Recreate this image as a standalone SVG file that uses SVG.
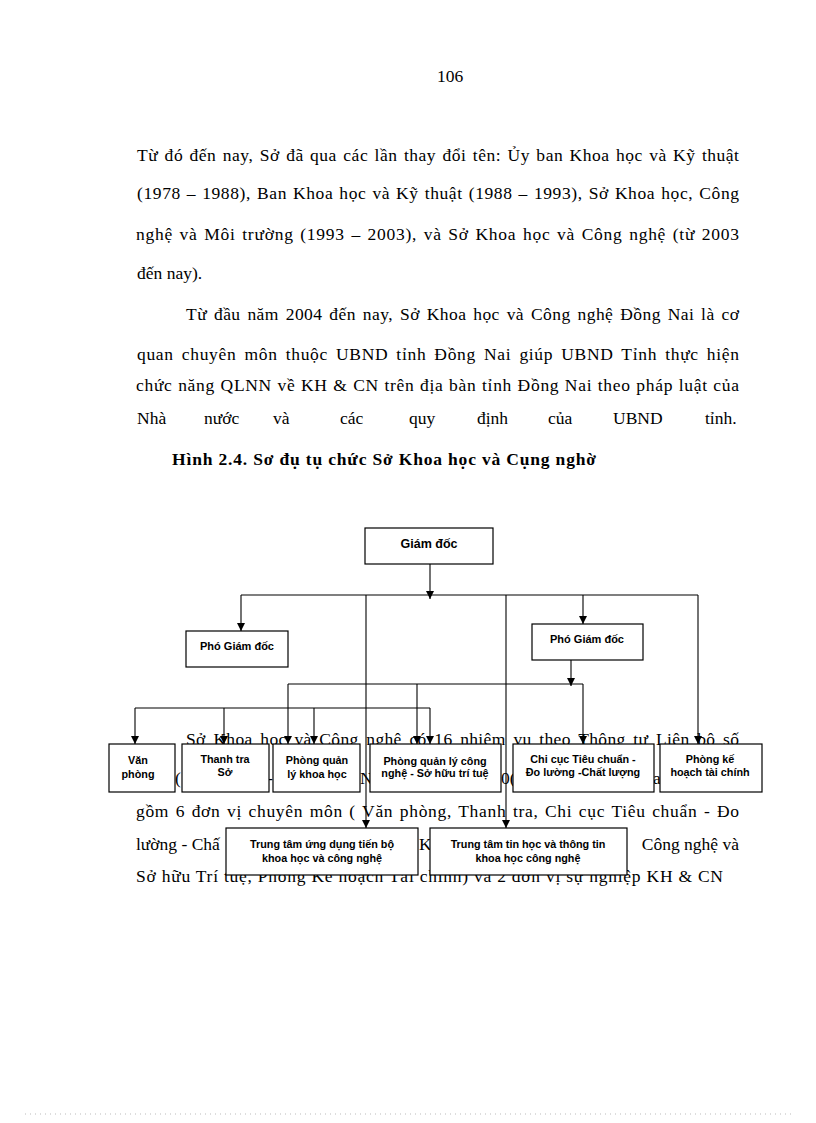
<svg xmlns="http://www.w3.org/2000/svg" width="816" height="1123" viewBox="0 0 816 1123">
<style>
.body{font-family:"Liberation Serif","Times New Roman",serif;font-size:17.5px;fill:#000}
.title{font-family:"Liberation Serif","Times New Roman",serif;font-size:17.5px;font-weight:bold;fill:#000}
.box{fill:#fff;stroke:#000;stroke-width:1.2}
.lbl{font-family:"Liberation Sans",Arial,sans-serif;font-size:10.8px;font-weight:bold;fill:#000;text-anchor:middle}
.con{stroke:#000;stroke-width:1.1;fill:none}
.arr{stroke:#000;stroke-width:1.1;fill:none;marker-end:url(#ah)}
</style>
<defs>
<marker id="ah" markerUnits="userSpaceOnUse" markerWidth="8" markerHeight="8" refX="8" refY="4" orient="auto">
<path d="M0,0 L8,4 L0,8 z" fill="#000"/>
</marker>
</defs>
<rect width="816" height="1123" fill="#fff"/>

<g id="page-text">
<text class="body" x="450" y="82" text-anchor="middle">106</text>
<text class="body" x="137" y="161" textLength="602" lengthAdjust="spacing" word-spacing="1.5">Từ đó đến nay, Sở đã qua các lần thay đổi tên: Ủy ban Khoa học và Kỹ thuật</text>
<text class="body" x="137" y="199" textLength="602" lengthAdjust="spacing" word-spacing="1">(1978 – 1988), Ban Khoa học và Kỹ thuật (1988 – 1993), Sở Khoa học, Công</text>
<text class="body" x="136" y="240" textLength="603" lengthAdjust="spacing" word-spacing="1.5">nghệ và Môi trường (1993 – 2003), và Sở Khoa học và Công nghệ (từ 2003</text>
<text class="body" x="137" y="279">đến nay).</text>
<text class="body" x="186" y="320" textLength="553" lengthAdjust="spacing" word-spacing="2">Từ đầu năm 2004 đến nay, Sở Khoa học và Công nghệ Đồng Nai là cơ</text>
<text class="body" x="137" y="360" textLength="602" lengthAdjust="spacing" word-spacing="3">quan chuyên môn thuộc UBND tỉnh Đồng Nai giúp UBND Tỉnh thực hiện</text>
<text class="body" x="136" y="391" textLength="603" lengthAdjust="spacing" word-spacing="0.5">chức năng QLNN về KH &amp; CN trên địa bàn tỉnh Đồng Nai theo pháp luật của</text>
<text class="body" y="424"><tspan x="137">Nhà</tspan><tspan x="204">nước</tspan><tspan x="273">và</tspan><tspan x="340">các</tspan><tspan x="409">quy</tspan><tspan x="477">định</tspan><tspan x="548">của</tspan><tspan x="613">UBND</tspan><tspan x="705">tỉnh.</tspan></text>
<text class="title" x="172" y="465" textLength="424" lengthAdjust="spacing">Hình 2.4. Sơ đụ tụ chức Sở Khoa học và Cụng nghờ</text>
<text class="body" x="186" y="745" textLength="553" lengthAdjust="spacing" word-spacing="3">Sở Khoa học và Công nghệ có 16 nhiệm vụ theo Thông tư Liên bộ số</text>
<text class="body" y="784"><tspan x="175">(</tspan><tspan x="267">-</tspan><tspan x="360">N</tspan><tspan x="501">0(</tspan><tspan x="653">a</tspan></text>
<text class="body" x="136" y="817" textLength="603" lengthAdjust="spacing" word-spacing="1.5">gồm 6 đơn vị chuyên môn ( Văn phòng, Thanh tra, Chi cục Tiêu chuẩn - Đo</text>
<text class="body" y="850"><tspan x="136">lường  -  Chấ</tspan><tspan x="419">K</tspan></text>
<text class="body" x="739" y="850" text-anchor="end">Công nghệ và</text>
<text class="body" x="136" y="882" textLength="587" lengthAdjust="spacing">Sở hữu Trí tuệ, Phòng Kế hoạch Tài chính) và 2 đơn vị sự nghiệp KH &amp; CN</text>
<line x1="25" y1="1114" x2="791" y2="1114" stroke="#bbb" stroke-width="1" stroke-dasharray="1 4"/>
</g>

<g id="connectors">
<line class="arr" x1="430" y1="564" x2="430" y2="599"/>
<line class="con" x1="241" y1="595" x2="698" y2="595"/>
<line class="arr" x1="241" y1="595" x2="241" y2="631"/>
<line class="arr" x1="583" y1="595" x2="583" y2="624"/>
<line class="arr" x1="366" y1="595" x2="366" y2="828"/>
<line class="arr" x1="506" y1="595" x2="506" y2="828"/>
<line class="arr" x1="698" y1="595" x2="698" y2="744"/>
<line class="arr" x1="571" y1="660" x2="571" y2="686"/>
<line class="con" x1="288" y1="684" x2="583" y2="684"/>
<line class="arr" x1="583" y1="684" x2="583" y2="744"/>
<line class="arr" x1="288" y1="684" x2="288" y2="744"/>
<line class="arr" x1="417" y1="684" x2="417" y2="744"/>
<line class="con" x1="135" y1="708" x2="430" y2="708"/>
<line class="arr" x1="135" y1="708" x2="135" y2="744"/>
<line class="arr" x1="224" y1="708" x2="224" y2="744"/>
<line class="arr" x1="314" y1="708" x2="314" y2="744"/>
<line class="arr" x1="430" y1="708" x2="430" y2="744"/>
</g>

<g id="giam-doc">
<rect class="box" x="365" y="528" width="128" height="36"/>
<text class="lbl" x="429" y="548" style="font-size:12.5px">Giám  đốc</text>
</g>
<g id="pho-giam-doc-1">
<rect class="box" x="186" y="631" width="102" height="36"/>
<text class="lbl" x="237" y="650" style="font-size:11px">Phó Giám đốc</text>
</g>
<g id="pho-giam-doc-2">
<rect class="box" x="532" y="624" width="111" height="36"/>
<text class="lbl" x="587" y="643" style="font-size:11px">Phó Giám đốc</text>
</g>
<g id="van-phong">
<rect class="box" x="109" y="744" width="66" height="48"/>
<text class="lbl" x="138" y="764">Văn</text>
<text class="lbl" x="138" y="778">phòng</text>
</g>
<g id="thanh-tra">
<rect class="box" x="182" y="744" width="87" height="48"/>
<text class="lbl" x="225" y="763">Thanh tra</text>
<text class="lbl" x="225" y="776">Sở</text>
</g>
<g id="phong-ql-khoa-hoc">
<rect class="box" x="273" y="744" width="87" height="48"/>
<text class="lbl" x="317" y="764">Phòng quản</text>
<text class="lbl" x="317" y="778">lý khoa học</text>
</g>
<g id="phong-ql-cong-nghe">
<rect class="box" x="370" y="744" width="131" height="48"/>
<text class="lbl" x="435" y="765">Phòng quản lý công</text>
<text class="lbl" x="435" y="777">nghệ - Sở hữu trí tuệ</text>
</g>
<g id="chi-cuc">
<rect class="box" x="513" y="744" width="141" height="48"/>
<text class="lbl" x="583" y="763">Chi cục Tiêu chuẩn -</text>
<text class="lbl" x="583" y="776">Đo lường -Chất lượng</text>
</g>
<g id="phong-ke-hoach">
<rect class="box" x="660" y="744" width="102" height="48"/>
<text class="lbl" x="710" y="763">Phòng kế</text>
<text class="lbl" x="710" y="776">hoạch tài chính</text>
</g>
<g id="tt-ung-dung">
<rect class="box" x="226" y="828" width="192" height="47"/>
<text class="lbl" x="322" y="848">Trung tâm ứng dụng tiến bộ</text>
<text class="lbl" x="322" y="862">khoa học và công nghệ</text>
</g>
<g id="tt-tin-hoc">
<rect class="box" x="430" y="828" width="197" height="47"/>
<text class="lbl" x="528" y="848">Trung tâm tin học và thông tin</text>
<text class="lbl" x="528" y="862">khoa học công nghệ</text>
</g>
</svg>
